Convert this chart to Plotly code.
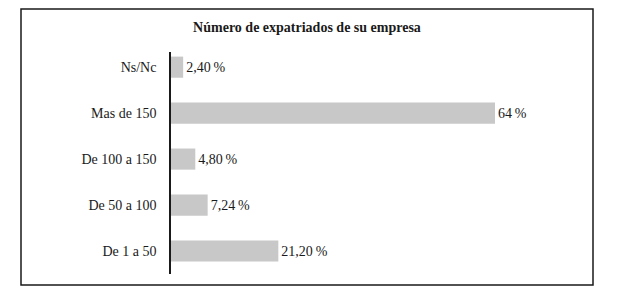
import plotly.graph_objects as go

categories = ["De 1 a 50", "De 50 a 100", "De 100 a 150", "Mas de 150", "Ns/Nc"]
values = [21.20, 7.24, 4.80, 64.0, 2.40]
value_labels = ["21,20\u2009%", "7,24\u2009%", "4,80\u2009%", "64\u2009%", "2,40\u2009%"]
title_text = "Número de expatriados de su empresa"

W, H = 622, 292
ml, mr, mt, mb = 171, 46, 52, 18
pw = W - ml - mr
ph = H - mt - mb

font_family = "Liberation Serif"

fig = go.Figure(go.Bar(
    x=values, y=categories, orientation="h",
    marker=dict(color="#c8c8c8", line=dict(width=0)),
    text=value_labels, textposition="outside",
    textfont=dict(family=font_family, size=14, color="#1a1a1a"),
    cliponaxis=False, width=0.46,
))

# outer frame
x0 = (21 - ml) / pw
x1 = (593 - ml) / pw
y1 = (H - mb - 9) / ph
y0 = (H - mb - 285) / ph
fig.add_shape(type="rect", xref="paper", yref="paper", x0=x0, x1=x1, y0=y0, y1=y1,
              line=dict(color="#1a1a1a", width=1.5), fillcolor="rgba(0,0,0,0)")

fig.update_layout(
    width=W, height=H,
    margin=dict(l=ml, r=mr, t=mt, b=mb),
    plot_bgcolor="white", paper_bgcolor="white",
    showlegend=False,
    font=dict(family=font_family),
    title=dict(text="<b>" + title_text + "</b>", x=307 / W, xanchor="center",
               y=1 - 27 / H, yanchor="middle",
               font=dict(family=font_family, size=14, color="#1a1a1a")),
    xaxis=dict(range=[0, 80], visible=False, fixedrange=True),
    yaxis=dict(categoryorder="array", categoryarray=categories,
               range=[-0.5, 4.33], showgrid=False, zeroline=False,
               showline=True, linecolor="#1a1a1a", linewidth=1.5,
               ticks="", ticklabelstandoff=10, fixedrange=True,
               tickfont=dict(family=font_family, size=14, color="#1a1a1a")),
)

fig.write_html("out.html", config={"displayModeBar": False},
               post_script="document.body.style.margin='0';")
